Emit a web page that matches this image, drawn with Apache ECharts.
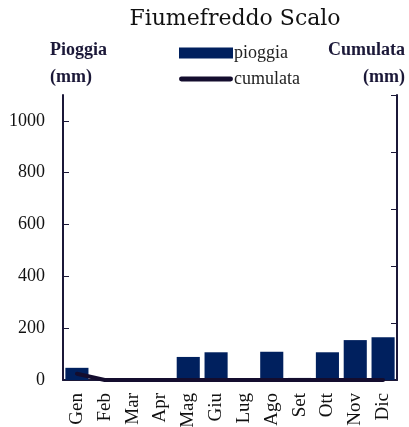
<!DOCTYPE html>
<html>
<head>
<meta charset="utf-8">
<script src="https://cdn.jsdelivr.net/npm/echarts@6/dist/echarts.min.js"></script>
<style>
  html, body { margin: 0; padding: 0; background: #fff; }
  #chart { width: 409px; height: 427px; }
</style>
</head>
<body>
<div id="chart"></div>
<script>
// mesi e valori
const mesi = ['Gen', 'Feb', 'Mar', 'Apr', 'Mag', 'Giu', 'Lug', 'Ago', 'Set', 'Ott', 'Nov', 'Dic']
const pioggia = [47, 1, 1, 5, 89, 107, 1, 109, 8, 107, 154, 165]
const cumulata = [22, 0, 0, 0, 0, 0, 0, 0, 0, 0, 0, 0]
const tickSinistra = [0, 200, 400, 600, 800, 1000]

const font = 'Liberation Serif'
const scuro = '#1b1838'

const chart = echarts.init(document.getElementById('chart'))
chart.setOption({
  animation: false,
  title: {
    text: 'Fiumefreddo Scalo',
    left: 230,
    textAlign: 'center',
    top: 3,
    textStyle: { fontFamily: 'DejaVu Serif', fontSize: 22, fontWeight: 'normal', color: '#111' }
  },
  legend: {
    orient: 'vertical',
    left: 174,
    top: 39,
    itemGap: 8,
    itemWidth: 54,
    itemHeight: 11,
    textStyle: { fontFamily: font, fontSize: 18, color: '#222', padding: [0, 0, 0, -4] },
    data: [
      { name: 'pioggia', icon: 'rect' },
      { name: 'cumulata', icon: 'path://M2,0h50a2.5,2.5 0 0 1 0,5h-50a2.5,2.5 0 0 1 0,-5z' }
    ]
  },
  graphic: [
    {
      type: 'text', x: 50, y: 37,
      style: { text: 'Pioggia\n(mm)', font: 'bold 18px ' + font, fill: scuro, lineHeight: 27 }
    },
    {
      type: 'text', x: 405, y: 37,
      style: { text: 'Cumulata\n(mm)', font: 'bold 18px ' + font, fill: scuro, lineHeight: 27, align: 'right' }
    }
  ],
  grid: { left: 63, right: 12, top: 95, bottom: 47, outerBoundsMode: 'none' },
  xAxis: {
    type: 'category',
    data: mesi,
    axisLine: { lineStyle: { color: scuro, width: 2 } },
    axisTick: { show: false },
    axisLabel: { rotate: 90, interval: 0, fontFamily: font, fontSize: 19, color: '#111', margin: 13 }
  },
  yAxis: [
    {
      type: 'value',
      min: 0, max: 1100, interval: 200,
      splitLine: { show: false },
      axisLine: { show: true, lineStyle: { color: scuro, width: 2 } },
      axisTick: { show: true, inside: true, length: 6, customValues: tickSinistra, lineStyle: { color: scuro } },
      axisLabel: {
        customValues: tickSinistra,
        formatter: v => String(v),
        fontFamily: font, fontSize: 18, color: '#111', margin: 18
      }
    },
    {
      type: 'value',
      min: 0, max: 1000, interval: 200,
      position: 'right',
      splitLine: { show: false },
      axisLine: { show: true, lineStyle: { color: scuro, width: 2 } },
      axisTick: { show: true, inside: true, length: 6, lineStyle: { color: scuro } },
      axisLabel: { show: false }
    }
  ],
  series: [
    {
      name: 'pioggia',
      type: 'bar',
      data: pioggia,
      barCategoryGap: '17%',
      itemStyle: { color: '#00205e' }
    },
    {
      name: 'cumulata',
      type: 'line',
      yAxisIndex: 1,
      data: cumulata,
      showSymbol: false,
      symbol: 'none',
      lineStyle: { color: '#140d2e', width: 4, cap: 'round' },
      itemStyle: { color: '#140d2e' }
    }
  ]
})
</script>
</body>
</html>
